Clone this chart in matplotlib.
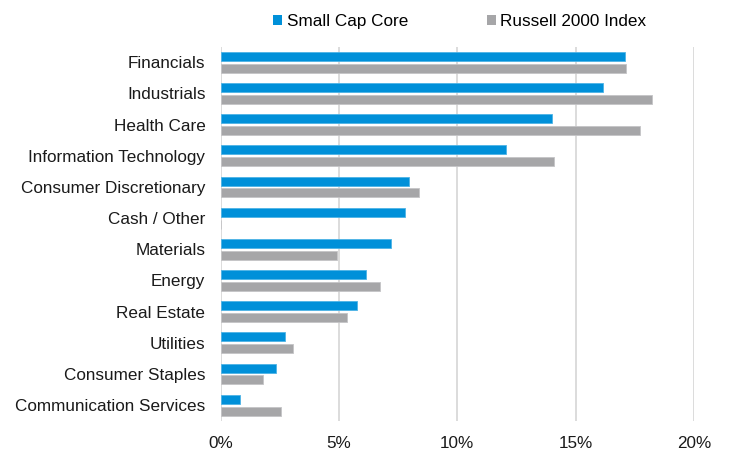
import matplotlib
matplotlib.use("Agg")
import matplotlib.pyplot as plt
import numpy as np
from matplotlib.patches import Patch

plt.rcParams['font.family'] = ['Liberation Sans', 'DejaVu Sans']

sectors = ["Financials", "Industrials", "Health Care", "Information Technology",
           "Consumer Discretionary", "Cash / Other", "Materials", "Energy",
           "Real Estate", "Utilities", "Consumer Staples", "Communication Services"]
small_cap_core = [17.08, 16.14, 14.0, 12.04, 7.97, 7.79, 7.21, 6.12, 5.77, 2.73, 2.34, 0.82]
russell_2000 = [17.12, 18.22, 17.74, 14.08, 8.39, 0.0, 4.93, 6.73, 5.32, 3.07, 1.80, 2.56]
xticks = [0, 5, 10, 15, 20]

blue = "#0090D9"
gray = "#A6A6A8"
fs = 12.3

fig = plt.figure(figsize=(7.5, 4.54), dpi=100)
ax = fig.add_axes([0.2943, 0.0733, 0.6310, 0.8238])

y = np.arange(len(sectors))
h = 0.29
ax.barh(y - 0.19, small_cap_core, height=h, color=blue, edgecolor="#4DB3E6", linewidth=0.6, zorder=3)
ax.barh(y + 0.19, russell_2000, height=h, color=gray, edgecolor="#C4C4C6", linewidth=0.6, zorder=3)

ax.set_ylim(len(sectors) - 0.5, -0.5)
ax.set_xlim(0, 20)
ax.set_yticks(y)
ax.set_yticklabels(sectors, fontsize=fs, color="#1a1a1a")
ax.set_xticks(xticks)
ax.set_xticklabels([f"{t}%" for t in xticks], fontsize=fs, color="#1a1a1a")
ax.tick_params(axis="y", length=0, pad=11)
ax.tick_params(axis="x", length=0, pad=11)

for s in ax.spines.values():
    s.set_visible(False)
ax.grid(axis="x", color="#D9D9D9", linewidth=1.3, zorder=0)
ax.set_axisbelow(True)

handles = [Patch(facecolor=blue), Patch(facecolor=gray)]
fig.legend(handles, ["Small Cap Core", "Russell 2000 Index"], loc="center",
           bbox_to_anchor=(0.613, 0.952), ncol=2, frameon=False, fontsize=fs,
           handlelength=0.55, handleheight=0.55, handletextpad=0.25, columnspacing=4.6)

fig.savefig("out.png", dpi=100)
